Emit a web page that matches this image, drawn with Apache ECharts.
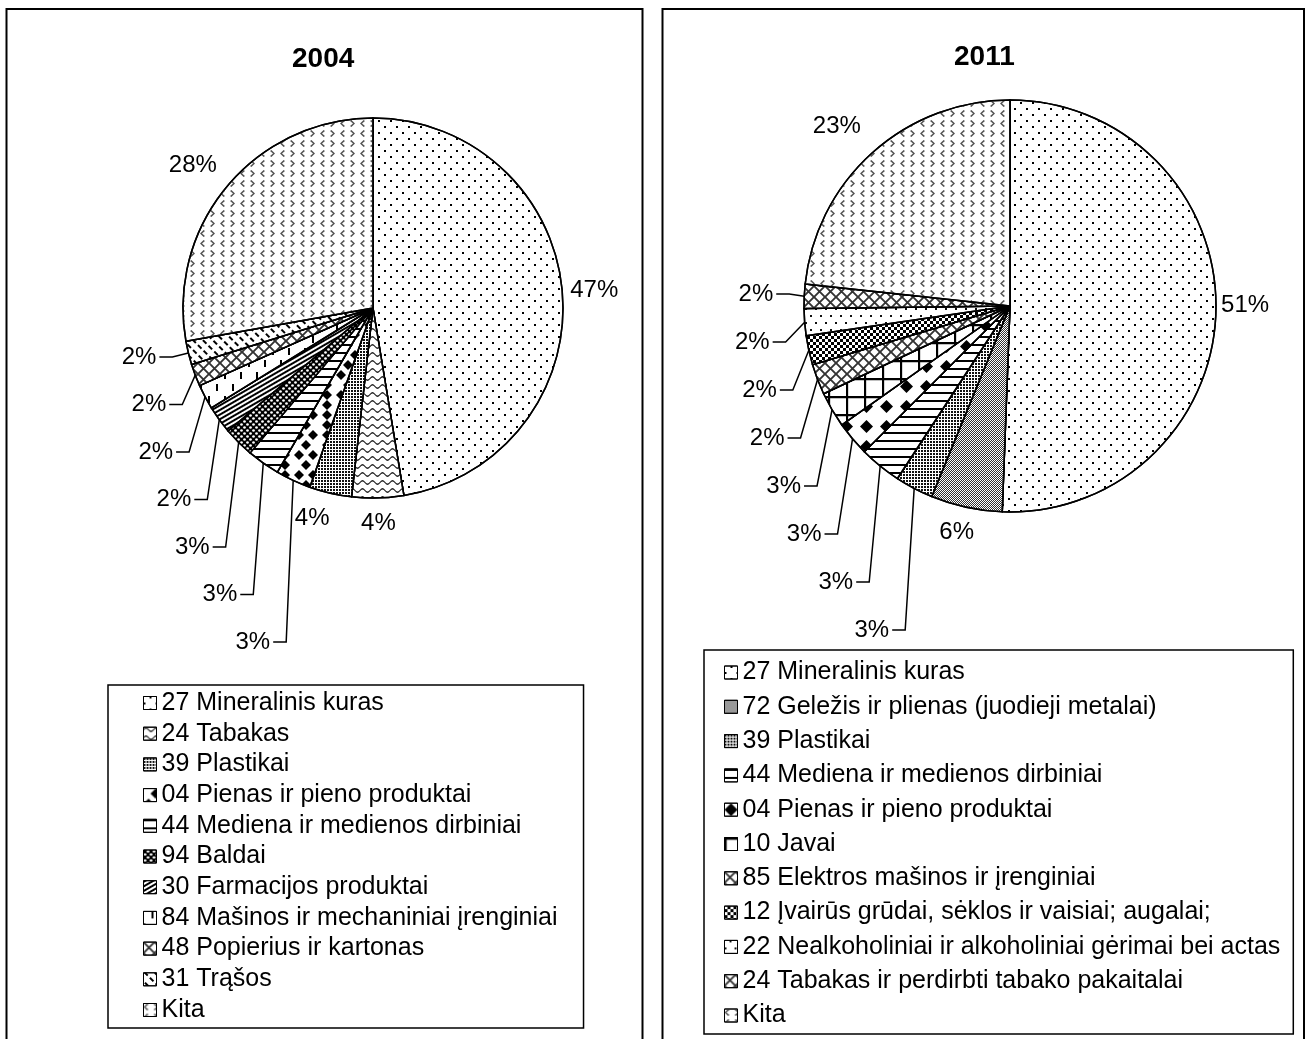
<!DOCTYPE html>
<html><head><meta charset="utf-8">
<script src="https://cdn.jsdelivr.net/npm/echarts@6/dist/echarts.min.js"></script>
<style>html,body{margin:0;padding:0;background:#fff}#chart{width:1310px;height:1039px}</style>
</head><body><div id="chart"></div>
<script>
// ---------------- data ----------------
const titles = ['2004', '2011'];
const categories2004 = ['27 Mineralinis kuras', '24 Tabakas', '39 Plastikai', '04 Pienas ir pieno produktai',
  '44 Mediena ir medienos dirbiniai', '94 Baldai', '30 Farmacijos produktai',
  '84 Mašinos ir mechaniniai įrenginiai', '48 Popierius ir kartonas', '31 Trąšos', 'Kita'];
const values2004 = [47.4, 4.4, 3.6, 3.0, 2.8, 2.6, 2.4, 2.1, 1.9, 2.0, 27.8];
const categories2011 = ['27 Mineralinis kuras', '72 Geležis ir plienas (juodieji metalai)', '39 Plastikai',
  '44 Mediena ir medienos dirbiniai', '04 Pienas ir pieno produktai', '10 Javai',
  '85 Elektros mašinos ir įrenginiai', '12 Įvairūs grūdai, sėklos ir vaisiai; augalai;',
  '22 Nealkoholiniai ir alkoholiniai gėrimai bei actas', '24 Tabakas ir perdirbti tabako pakaitalai', 'Kita'];
const values2011 = [50.6, 5.6, 3.0, 3.3, 2.7, 2.8, 2.4, 2.3, 2.1, 1.9, 23.3];

// ---------------- styles ----------------
const FONT = "'Liberation Sans', Arial, Helvetica, sans-serif";
const DOTS = {symbol: 'rect', symbolSize: 1, color: '#000', dashArrayX: [[2, 10], [0, 6, 2, 4]], dashArrayY: [2, 4]};
const WAVE = {symbol: 'path://M0,2 Q2.5,-1 5,2 Q7.5,5 10,2 L10,3.4 Q7.5,6.4 5,3.4 Q2.5,0.4 0,3.4 Z',
  symbolSize: 1, symbolKeepAspect: false, color: '#222', dashArrayX: [10, 0], dashArrayY: [5, 3]};
const PLAST = {symbol: 'rect', symbolSize: 1, color: '#111', dashArrayX: [2, 1], dashArrayY: [2, 1]};
const DIAM04 = {symbol: 'path://M5,0 L10,5 L5,10 L0,5 Z', symbolSize: 1, symbolKeepAspect: false, color: '#000',
  dashArrayX: [[10, 4], [0, 7, 10, 4, 0, 0]], dashArrayY: [10, 0]};
const DIAM11 = {symbol: 'path://M5,0 L10,5 L5,10 L0,5 Z', symbolSize: 1, symbolKeepAspect: false, color: '#000',
  dashArrayX: [13, 7], dashArrayY: [13, 7]};
const HLINE = {symbol: 'rect', symbolSize: 1, color: '#000', dashArrayX: [10, 0], dashArrayY: [2, 6]};
const BLACKDOT = {symbol: 'circle', symbolSize: 0.9, color: '#fff', backgroundColor: '#000',
  dashArrayX: [[3, 3], [0, 3, 3, 0]], dashArrayY: [3, 0]};
const STRIPE = {symbol: 'rect', symbolSize: 1, color: '#000', dashArrayX: [2, 2], dashArrayY: [10, 0], rotation: Math.PI / 3};
const VDASH = {symbol: 'rect', symbolSize: 1, color: '#000', dashArrayX: [[2, 14], [0, 8, 2, 6]], dashArrayY: [7, 5]};
const XLAT = {symbol: 'path://M0,0 L1.2,0 L10,8.8 L10,10 L8.8,10 L0,1.2 Z M8.8,0 L10,0 L10,1.2 L1.2,10 L0,10 L0,8.8 Z',
  symbolSize: 1, symbolKeepAspect: false, color: '#333', dashArrayX: [11, 0], dashArrayY: [11, 0]};
const DIAG = {symbol: 'rect', symbolSize: 1, color: '#000', dashArrayX: [2, 5], dashArrayY: [5, 3], rotation: -Math.PI / 4};
const CHEV = {symbol: ['path://M3.6,0 L5,1 L2,3.5 L5,6 L3.6,7 L0,3.5 Z', 'path://M1.4,0 L5,3.5 L1.4,7 L0,6 L3,3.5 L0,1 Z'],
  symbolSize: 1, symbolKeepAspect: false, color: '#555', dashArrayX: [5, 5], dashArrayY: [7, 3]};
const GELEZ = {symbol: 'rect', symbolSize: 1, color: '#333', dashArrayX: [[1, 1], [0, 1, 1, 0]], dashArrayY: [1, 0]};
const GRID = {symbol: 'path://M0,0 L10,0 L10,1.2 L1.2,1.2 L1.2,10 L0,10 Z', symbolSize: 1, symbolKeepAspect: false,
  color: '#000', dashArrayX: [18, 0], dashArrayY: [18, 0]};
const CHECK = {symbol: 'rect', symbolSize: 1, color: '#000', dashArrayX: [[3, 3], [0, 3, 3, 0]], dashArrayY: [3, 0]};
const SDOTS = {symbol: 'rect', symbolSize: 1, color: '#111', dashArrayX: [[2, 8], [0, 5, 2, 3]], dashArrayY: [2, 5]};

const decals2004 = [DOTS, WAVE, PLAST, DIAM04, HLINE, BLACKDOT, STRIPE, VDASH, XLAT, DIAG, CHEV];
const decals2011 = [DOTS, GELEZ, PLAST, HLINE, DIAM11, GRID, XLAT, CHECK, SDOTS, XLAT, CHEV];

// layout of each panel (positions only)
const pies = [
  {center: [373, 308], r: 190, leaderFrom: 3, leaderTo: 9, leaderBottomY: 642, leaderStep: 47.5,
   leaderDx: [-7, -10, -13, -12, -16, -13, -16],
   radial: {0: [32, 0], 1: [25, 0], 2: [29, 12], 10: [40, -6]}},
  {center: [1010, 306], r: 206, leaderFrom: 2, leaderTo: 9, leaderBottomY: 630, leaderStep: 48,
   leaderDx: [-9, -11, -15, -15, -17, -16, -19, -15],
   radial: {0: [29, -5], 1: [27, 4], 10: [43, -9]}}
];

function makeLabelLayout(p, vals) {
  const total = vals.reduce((a, b) => a + b, 0);
  const mids = [];
  let acc = 0;
  vals.forEach(v => { mids.push(acc + v / 2); acc += v; });
  return function (params) {
    const i = params.dataIndex;
    const a = mids[i] / total * 2 * Math.PI;
    const sx = Math.sin(a), sy = -Math.cos(a);
    const ex = p.center[0] + p.r * sx, ey = p.center[1] + p.r * sy;
    if (i >= p.leaderFrom && i <= p.leaderTo) {
      const k = i - p.leaderFrom;
      const ly = p.leaderBottomY - k * p.leaderStep;
      const bx = ex + p.leaderDx[k];
      const hx = bx - 13;
      return {x: hx - 3, y: ly, align: 'right', verticalAlign: 'middle',
        labelLinePoints: [[ex, ey], [bx, ly], [hx, ly]]};
    }
    const d = p.r + p.radial[i][0], t = p.radial[i][1];
    return {x: p.center[0] + d * sx + t * Math.cos(a), y: p.center[1] + d * sy + t * Math.sin(a),
      align: 'center', verticalAlign: 'middle'};
  };
}

function makePie(k, names, vals, decals) {
  const p = pies[k];
  return {
    type: 'pie', name: titles[k], center: p.center, radius: p.r, startAngle: 90, clockwise: true,
    avoidLabelOverlap: false, animation: false, silent: true,
    itemStyle: {color: '#fff', borderColor: '#000', borderWidth: 1.5},
    label: {show: true, position: 'outside', formatter: prm => Math.round(prm.value) + '%',
      fontSize: 24, color: '#000', fontFamily: FONT},
    labelLine: {show: true, length: 10, length2: 10, lineStyle: {color: '#000', width: 1.5}},
    labelLayout: makeLabelLayout(p, vals),
    emphasis: {disabled: true, scale: false},
    data: names.map((n, i) => ({name: n, value: vals[i], itemStyle: {decal: decals[i]},
      labelLine: {show: i >= p.leaderFrom && i <= p.leaderTo}}))
  };
}

function makeLegend(names, decals, cfg) {
  return Object.assign({
    orient: 'vertical', icon: 'rect', itemWidth: 13, itemHeight: 13, selectedMode: false,
    borderColor: '#000', borderWidth: 1.5, backgroundColor: '#fff',
    itemStyle: {borderColor: '#000', borderWidth: 1},
    data: names.map((n, i) => ({name: n, itemStyle: {decal: decals[i]}}))
  }, cfg);
}

const chart = echarts.init(document.getElementById('chart'), null, {renderer: 'canvas'});
chart.setOption({
  animation: false,
  backgroundColor: '#fff',
  title: [
    {text: titles[0], left: 287, top: 40, textStyle: {fontSize: 28, fontWeight: 'bold', color: '#000', fontFamily: FONT}},
    {text: titles[1], left: 949, top: 38, textStyle: {fontSize: 28, fontWeight: 'bold', color: '#000', fontFamily: FONT}}
  ],
  graphic: [
    {type: 'rect', silent: true, shape: {x: 6.5, y: 9, width: 636, height: 1100}, style: {fill: null, stroke: '#000', lineWidth: 2}},
    {type: 'rect', silent: true, shape: {x: 662.5, y: 9, width: 641.5, height: 1100}, style: {fill: null, stroke: '#000', lineWidth: 2}}
  ],
  legend: [
    makeLegend(categories2004, decals2004, {left: 108, top: 685, itemGap: 5.7, padding: [5.5, 26, 5.5, 35],
      textStyle: {color: '#000', fontFamily: FONT, fontSize: 25}}),
    makeLegend(categories2011, decals2011, {left: 704, top: 650, itemGap: 9.3, padding: [10, 13, 6, 20],
      textStyle: {color: '#000', fontFamily: FONT, fontSize: 25}})
  ],
  series: [
    makePie(0, categories2004, values2004, decals2004),
    makePie(1, categories2011, values2011, decals2011)
  ]
});
</script>
</body></html>
